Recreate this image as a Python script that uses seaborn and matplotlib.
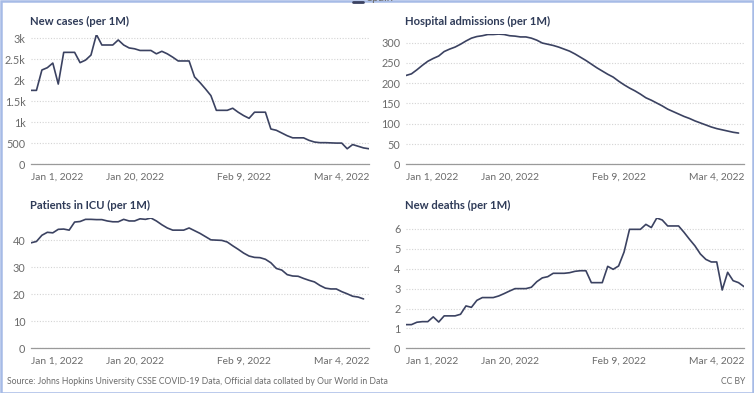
import numpy as np
import pandas as pd
import seaborn as sns
import matplotlib.pyplot as plt
from matplotlib.lines import Line2D
from matplotlib.patches import Rectangle

# Spain, daily values per million, Jan 1 - Mar 4 2022
new_cases = [1760, 1760, 2245, 2300, 2410, 1910, 2665, 2665, 2665, 2420,
             2480, 2600, 3090, 2840, 2840, 2840, 2960, 2840, 2770, 2750,
             2710, 2710, 2710, 2630, 2690, 2630, 2550, 2460, 2460, 2460,
             2080, 1945, 1795, 1635, 1285, 1285, 1285, 1335, 1240, 1160,
             1095, 1240, 1240, 1240, 840, 810, 745, 680, 630, 630,
             630, 570, 530, 515, 515, 510, 505, 505, 370, 470,
             430, 390, 370]
hospital = [219, 223, 233, 244, 254, 261, 267, 278, 284, 289,
            296, 304, 311, 315, 317, 320, 320, 321, 320, 317,
            316, 314, 314, 311, 306, 299, 296, 293, 289, 284,
            279, 272, 264, 256, 247, 238, 230, 222, 215, 205,
            196, 188, 181, 173, 164, 158, 151, 144, 136, 130,
            124, 118, 113, 107, 102, 97, 92, 88, 85, 82,
            79, 77]
icu = [39.1, 39.6, 41.9, 43.0, 42.8, 44.1, 44.2, 43.8, 46.8, 47.0,
       47.8, 47.8, 47.7, 47.7, 47.2, 46.9, 46.9, 47.8, 47.2, 47.2,
       48.0, 47.8, 48.3, 47.2, 45.8, 44.6, 43.8, 43.8, 43.8, 44.6,
       43.6, 42.6, 41.4, 40.2, 40.1, 40.0, 39.4, 38.0, 36.7, 35.3,
       34.2, 33.7, 33.6, 33.0, 31.7, 29.6, 29.0, 27.3, 26.8, 26.7,
       25.9, 25.2, 24.6, 23.3, 22.3, 22.0, 22.0, 21.0, 20.2, 19.3,
       19.0, 18.3]
deaths = [1.19, 1.19, 1.31, 1.34, 1.34, 1.58, 1.32, 1.63, 1.63, 1.63,
          1.71, 2.13, 2.06, 2.41, 2.55, 2.55, 2.55, 2.63, 2.75, 2.88,
          3.0, 3.0, 3.0, 3.07, 3.35, 3.54, 3.6, 3.77, 3.77, 3.77,
          3.8, 3.87, 3.9, 3.9, 3.3, 3.3, 3.3, 4.12, 3.97, 4.14,
          4.84, 5.98, 5.98, 5.98, 6.23, 6.07, 6.55, 6.45, 6.15, 6.15,
          6.15, 5.83, 5.48, 5.15, 4.74, 4.47, 4.34, 4.34, 2.93, 3.82,
          3.4, 3.3, 3.1]

titles = ["New cases (per 1M)", "Hospital admissions (per 1M)",
          "Patients in ICU (per 1M)", "New deaths (per 1M)"]
yticks = [[0, 500, 1000, 1500, 2000, 2500, 3000],
          [0, 50, 100, 150, 200, 250, 300],
          [0, 10, 20, 30, 40],
          [0, 1, 2, 3, 4, 5, 6]]
ylabels = [["0", "500", "1k", "1.5k", "2k", "2.5k", "3k"],
           None, None, None]
xtick_dates = pd.to_datetime(["2022-01-01", "2022-01-20", "2022-02-09", "2022-03-04"])
xtick_labels = ["Jan 1, 2022", "Jan 20, 2022", "Feb 9, 2022", "Mar 4, 2022"]

sns.set_theme(style="white")
plt.rcParams['font.family'] = ['Lato', 'DejaVu Sans']

fig = plt.figure(figsize=(7.54, 3.93), dpi=100)
W, H = 754, 393

line_c = "#3b4261"
title_c = "#2f3b58"
tick_c = "#6b6b6b"

# axes boxes in pixels: left, right, top, bottom(y=0)
boxes = [(31, 369, 34.5, 164.3), (406, 744, 34.1, 164.3),
         (31, 369, 218.0, 348.3), (406, 744, 218.0, 348.3)]
series = [new_cases, hospital, icu, deaths]

start = pd.Timestamp("2022-01-01")
end = pd.Timestamp("2022-03-04")

for i, (vals, box) in enumerate(zip(series, boxes)):
    l, r, t, b = box
    ax = fig.add_axes([l / W, (H - b) / H, (r - l) / W, (b - t) / H])
    df = pd.DataFrame({"date": pd.date_range(start, periods=len(vals), freq="D"),
                       "value": vals})
    sns.lineplot(data=df, x="date", y="value", ax=ax, color=line_c, linewidth=1.2)
    ax.set_xlim(start, end)
    ax.set_ylim(0, max(vals))
    ax.set_xlabel("")
    ax.set_ylabel("")
    for s in ["top", "right", "left"]:
        ax.spines[s].set_visible(False)
    ax.spines["bottom"].set_color("#9a9a9a")
    ax.spines["bottom"].set_linewidth(0.9)
    ax.set_yticks(yticks[i])
    if ylabels[i]:
        ax.set_yticklabels(ylabels[i])
    ax.yaxis.grid(True, linestyle=(0, (1, 1.5)), color="#d4d4d4", linewidth=0.8)
    ax.set_axisbelow(True)
    ax.tick_params(axis="y", length=0, pad=4, labelsize=7.8, labelcolor=tick_c)
    ax.set_xticks(xtick_dates)
    ax.set_xticklabels(xtick_labels)
    ax.tick_params(axis="x", length=4, width=0.9, color="#9a9a9a", pad=2,
                   labelsize=7.4, labelcolor=tick_c, direction="out")
    labs = ax.get_xticklabels()
    labs[0].set_ha("left")
    labs[-1].set_ha("right")
    # panel title
    fig.text(l / W - 0.001, (H - (t - 13)) / H, titles[i], fontsize=8.1,
             fontweight="bold", color=title_c, va="center", ha="left")

fig.text(7 / W, (H - 381) / H,
         "Source: Johns Hopkins University CSSE COVID-19 Data, Official data collated by Our World in Data",
         fontsize=6.25, color="#6b6b6b", va="center", ha="left")
fig.text(745 / W, (H - 381) / H, "CC BY", fontsize=6.25, color="#6b6b6b",
         va="center", ha="right")

# legend cut off at the top edge, as in the original
fig.add_artist(Line2D([353 / W, 363 / W], [(H - 1.5) / H, (H - 1.5) / H],
                      color=line_c, linewidth=2, transform=fig.transFigure))
fig.text(367 / W, (H + 3) / H, "Spain", fontsize=8, color=tick_c, va="center", ha="left")

# light blue frame
fig.add_artist(Rectangle((0.5 / W, 0.5 / H), 1 - 1.5 / W, 1 - 1.5 / H,
                         transform=fig.transFigure, fill=False,
                         edgecolor="#a6bbe6", linewidth=1.8))

fig.savefig("out.png", dpi=100)
